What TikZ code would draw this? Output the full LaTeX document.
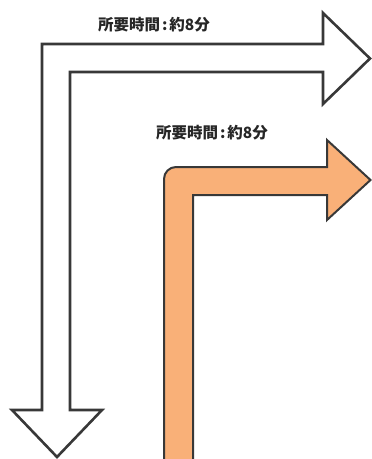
\documentclass[tikz,border=0pt]{standalone}
\usepackage{fontspec}
\newfontfamily\cjk{Noto Sans CJK JP}
\definecolor{edge}{HTML}{383838}
\definecolor{orangefill}{HTML}{F9B078}
\tikzset{
  lbl/.style={font=\cjk\bfseries\fontsize{15.5}{17}\selectfont, text=black!85, inner sep=0pt},
  outlinearrow/.style={draw=edge, line width=2.6pt, line join=miter, fill=white},
  orangearrow/.style={draw=edge, line width=2pt, line join=miter}
}
\newcommand{\timelabel}{所要時間\kern2pt:\kern2pt約8分}
\begin{document}
\begin{tikzpicture}[x=1pt,y=-1pt]
\useasboundingbox (0,0) rectangle (372,459);
% white L-shaped arrow
\draw[outlinearrow] (42,410) -- (42,44) -- (323,44) -- (323,13) -- (370,58.5) -- (323,104) -- (323,72) -- (70,72) -- (70,410) -- (102,410) -- (57,457) -- (12,410) -- cycle;
% orange L-shaped arrow
\fill[orangefill] (164,470) -- (164,179) .. controls (164,172.4) and (169.4,167) .. (176,167) -- (327,167) -- (327,140) -- (370.5,180) -- (327,220) -- (327,195) -- (193,195) -- (193,470) -- cycle;
\draw[orangearrow] (164,470) -- (164,179) .. controls (164,172.4) and (169.4,167) .. (176,167) -- (327,167) -- (327,140) -- (370.5,180) -- (327,220) -- (327,195) -- (193,195) -- (193,470);
% labels
\node[lbl] (t1) at (154,25) {\timelabel};
\node[lbl] (t2) at (212,133) {\timelabel};
\end{tikzpicture}
\end{document}
